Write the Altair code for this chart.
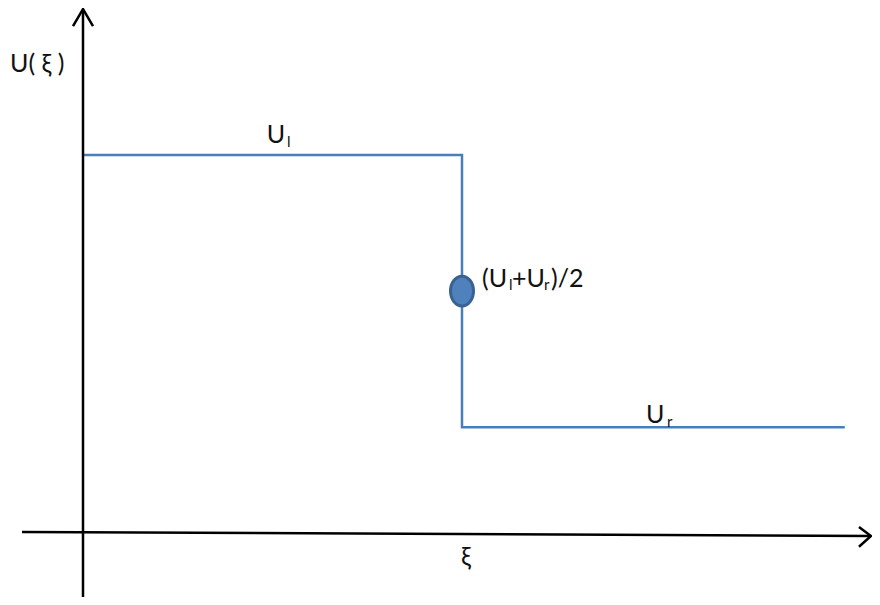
import altair as alt
import pandas as pd

# ---- data (schematic Riemann-problem step profile) ----
xi_points = [0.0, 1.0, 2.01]         # xi positions of the step profile
u_points = [1.0, 0.28, 0.28]         # U values (step-after interpolation)
shock_xi = 1.0
u_left = u_points[0]
u_right = u_points[-1]
u_mid = (u_left + u_right) / 2

# axes extents (data units)
x_domain = [-0.1979, 2.0818]
y_domain = [-0.1693, 1.3889]
xaxis_from = (-0.161, 0.0026)
xaxis_to = (2.0791, -0.0078)
yaxis_top = 1.386
yaxis_bottom = -0.1693

# labels: text, xi, U, font size
label_text = ["U( ξ )", "U", "l", "U", "r", "(U", "l", "+U", "r", ")/2", "ξ"]
label_xi = [-0.1926, 0.485, 0.5383, 1.4855, 1.541, 1.0528, 1.124, 1.1319, 1.2164, 1.2348, 0.9974]
label_u = [1.2196, 1.032, 1.021, 0.291, 0.2804, 0.6508, 0.6429, 0.6508, 0.6429, 0.6508, -0.0847]
label_size = [25, 25, 15, 25, 15, 25, 15, 25, 15, 25, 25]

W, H = 864, 589
xs = alt.Scale(domain=x_domain, nice=False, zero=False)
ys = alt.Scale(domain=y_domain, nice=False, zero=False)

step_df = pd.DataFrame({"xi": xi_points, "U": u_points})
step = alt.Chart(step_df).mark_line(
    interpolate="step-after", color="#4a7ebb", strokeWidth=2.5
).encode(x=alt.X("xi:Q", scale=xs, axis=None), y=alt.Y("U:Q", scale=ys, axis=None))

xaxis_df = pd.DataFrame({"x": [xaxis_from[0]], "y": [xaxis_from[1]],
                         "x2": [xaxis_to[0]], "y2": [xaxis_to[1]]})
xaxis = alt.Chart(xaxis_df).mark_rule(color="black", strokeWidth=2.5).encode(
    x=alt.X("x:Q", scale=xs, axis=None), y=alt.Y("y:Q", scale=ys, axis=None),
    x2="x2:Q", y2="y2:Q")

yaxis_df = pd.DataFrame({"x": [0.0], "y": [yaxis_bottom], "y2": [yaxis_top]})
yaxis = alt.Chart(yaxis_df).mark_rule(color="black", strokeWidth=2.5).encode(
    x=alt.X("x:Q", scale=xs, axis=None), y=alt.Y("y:Q", scale=ys, axis=None), y2="y2:Q")

# arrowheads (open chevrons) at axis ends
dxr, dyr = 0.0317, 0.0238
dxt, dyt = 0.0264, 0.045
arrow_df = pd.DataFrame({
    "arrow": ["r", "r", "r", "t", "t", "t"],
    "order": [0, 1, 2, 0, 1, 2],
    "x": [xaxis_to[0] - dxr, xaxis_to[0], xaxis_to[0] - dxr, -dxt, 0.0, dxt],
    "y": [xaxis_to[1] + dyr, xaxis_to[1], xaxis_to[1] - 1.2 * dyr,
          yaxis_top - dyt, yaxis_top, yaxis_top - dyt],
})
arrows = alt.Chart(arrow_df).mark_line(color="black", strokeWidth=2.5).encode(
    x=alt.X("x:Q", scale=xs, axis=None), y=alt.Y("y:Q", scale=ys, axis=None),
    detail="arrow:N", order="order:Q")

mid_df = pd.DataFrame({"xi": [shock_xi], "U": [u_mid]})
ellipse_path = "M0,-1.3A1,1.3,0,1,1,0,1.3A1,1.3,0,1,1,0,-1.3Z"
midpoint = alt.Chart(mid_df).mark_point(
    shape=ellipse_path, size=529, filled=True, fill="#4f81bd",
    stroke="#3a6291", strokeWidth=3, opacity=1
).encode(x=alt.X("xi:Q", scale=xs, axis=None), y=alt.Y("U:Q", scale=ys, axis=None))

lab_df = pd.DataFrame({"text": label_text, "xi": label_xi, "U": label_u, "size": label_size})
labels = alt.Chart(lab_df).mark_text(
    align="left", baseline="alphabetic", font="Lato", color="#111111"
).encode(x=alt.X("xi:Q", scale=xs, axis=None), y=alt.Y("U:Q", scale=ys, axis=None),
         text="text:N", size=alt.Size("size:Q", scale=None, legend=None))

chart = alt.layer(step, xaxis, yaxis, arrows, midpoint, labels).properties(
    width=W, height=H, padding=0, autosize=alt.AutoSizeParams(type="none")
).configure_view(stroke=None)

chart.save("out.html", embed_options={"renderer": "svg", "actions": False})
